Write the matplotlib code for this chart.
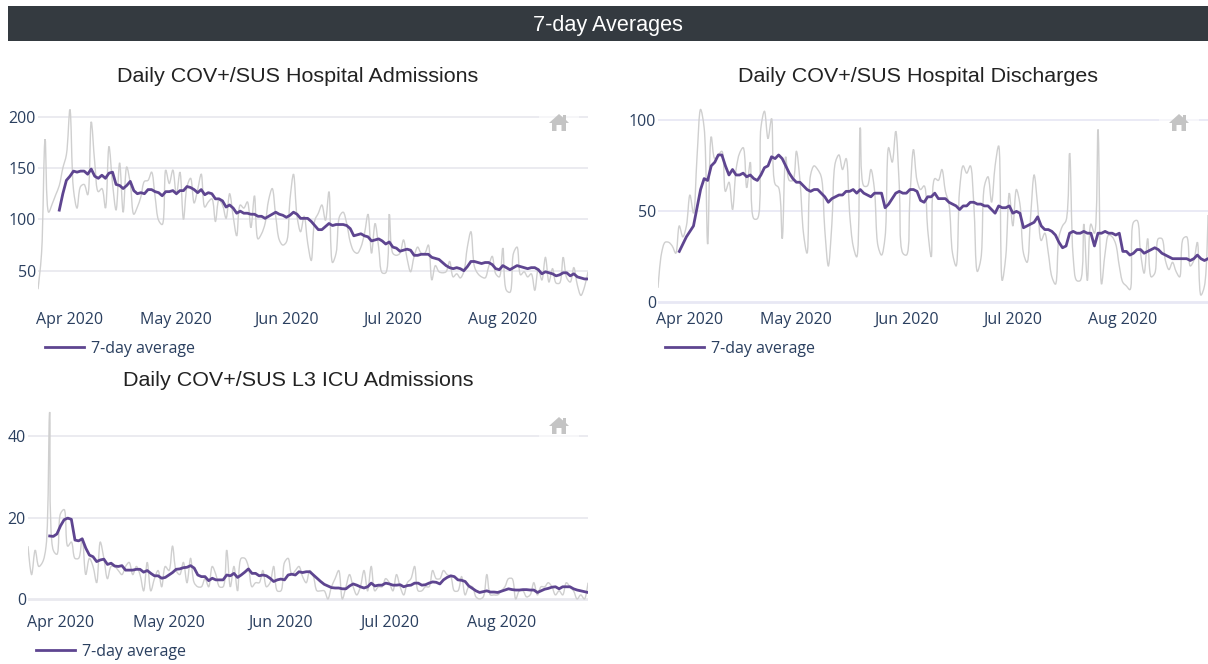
"""
7-day averages dashboard: hospital admissions, discharges and L3 ICU admissions
"""

import numpy as np
import matplotlib
matplotlib.use("Agg")
import matplotlib.pyplot as plt
import matplotlib.dates as mdates
from matplotlib.path import Path
from matplotlib.patches import PathPatch, Polygon, Rectangle

# ── Data (one value per day) ──────────────────────────────────
start_date = "2020-03-23"
end_date = "2020-08-25"
tick_dates = ["2020-04-01", "2020-05-01", "2020-06-01", "2020-07-01", "2020-08-01"]
tick_labels = ["Apr 2020", "May 2020", "Jun 2020", "Jul 2020", "Aug 2020"]

adm_daily = [
    32, 67, 178, 107, 115, 124, 133, 150, 163, 207, 129, 111, 132, 134, 124, 195,
    155, 127, 130, 111, 171, 135, 109, 155, 107, 151, 135, 105, 112, 122, 137, 138,
    146, 122, 99, 95, 148, 135, 148, 124, 146, 100, 132, 140, 116, 129, 144, 112,
    117, 120, 98, 119, 114, 101, 125, 103, 84, 114, 111, 117, 92, 123, 81, 86,
    96, 119, 130, 103, 80, 75, 78, 119, 144, 103, 88, 103, 77, 60, 99, 106,
    114, 99, 127, 58, 67, 103, 107, 96, 78, 69, 67, 73, 86, 105, 67, 96,
    73, 48, 48, 105, 67, 65, 67, 80, 62, 49, 64, 73, 67, 67, 75, 41,
    55, 49, 48, 49, 59, 44, 47, 43, 49, 73, 88, 54, 47, 44, 43, 54,
    64, 47, 44, 72, 31, 29, 67, 73, 46, 49, 44, 47, 31, 52, 41, 63,
    39, 52, 38, 38, 63, 43, 39, 53, 36, 26, 34, 49,
]
adm_avg = [
    109, 125, 138, 142, 147, 146, 147, 147, 144, 149, 142, 140, 143, 140, 145, 146,
    134, 133, 130, 133, 137, 128, 125, 126, 125, 129, 129, 127, 126, 123, 127, 127,
    128, 125, 128, 128, 132, 131, 129, 126, 129, 124, 126, 125, 120, 120, 118, 112,
    114, 111, 106, 108, 106, 106, 105, 105, 103, 103, 101, 103, 105, 107, 105, 104,
    102, 104, 107, 105, 101, 101, 101, 98, 94, 90, 90, 93, 96, 94, 95, 95,
    95, 94, 91, 84, 85, 86, 84, 83, 79, 80, 81, 79, 76, 78, 73, 72,
    69, 70, 71, 70, 65, 65, 66, 66, 66, 63, 62, 61, 58, 55, 53, 52,
    53, 52, 50, 54, 59, 59, 58, 57, 58, 58, 56, 52, 51, 55, 53, 51,
    53, 55, 54, 53, 52, 53, 53, 51, 47, 49, 48, 47, 45, 46, 48, 48,
    45, 47, 44, 43, 42, 42,
]

dis_daily = [
    8, 27, 33, 33, 31, 27, 42, 36, 42, 59, 49, 80, 106, 96, 32, 91,
    79, 81, 83, 61, 66, 51, 73, 82, 85, 63, 77, 46, 46, 96, 105, 90,
    101, 65, 63, 35, 80, 67, 67, 83, 67, 38, 27, 70, 75, 73, 69, 40,
    20, 43, 77, 81, 73, 79, 49, 31, 25, 96, 64, 64, 73, 62, 31, 26,
    36, 85, 77, 94, 64, 27, 26, 58, 84, 67, 62, 64, 40, 25, 68, 67,
    73, 61, 54, 27, 20, 62, 75, 71, 75, 54, 17, 24, 64, 69, 55, 75,
    86, 12, 25, 60, 42, 62, 54, 27, 22, 47, 70, 53, 34, 38, 27, 14,
    10, 36, 42, 45, 82, 25, 12, 12, 43, 12, 43, 38, 95, 10, 27, 37,
    36, 32, 20, 11, 9, 7, 44, 45, 27, 16, 35, 14, 16, 35, 35, 23,
    18, 22, 17, 14, 35, 36, 20, 23, 33, 4, 9, 48,
]
dis_avg = [
    28, 32, 36, 39, 42, 52, 62, 68, 67, 75, 77, 81, 81, 75, 70, 73,
    70, 70, 71, 69, 70, 68, 67, 70, 74, 75, 80, 79, 81, 79, 75, 71,
    68, 66, 66, 64, 62, 61, 62, 62, 60, 58, 55, 57, 58, 59, 59, 61,
    61, 62, 60, 62, 60, 59, 58, 60, 60, 60, 52, 54, 57, 60, 61, 60,
    60, 62, 62, 61, 56, 55, 58, 58, 60, 57, 57, 57, 55, 54, 53, 51,
    53, 53, 55, 55, 54, 54, 53, 53, 51, 49, 53, 52, 52, 53, 49, 50,
    49, 41, 42, 43, 44, 47, 42, 40, 40, 39, 37, 33, 30, 31, 38, 39,
    38, 38, 39, 38, 38, 31, 38, 38, 39, 38, 38, 37, 38, 28, 28, 26,
    27, 29, 29, 27, 28, 29, 30, 29, 27, 26, 25, 24, 24, 24, 24, 24,
    23, 24, 26, 24, 23, 24,
]

icu_daily = [
    13, 6, 12, 8, 9, 13, 46, 12, 11, 21, 22, 13, 14, 10, 10, 15,
    6, 10, 8, 4, 14, 10, 5, 8, 8, 7, 6, 8, 9, 6, 8, 6,
    2, 9, 2, 5, 7, 3, 8, 7, 13, 7, 6, 9, 4, 10, 4, 3,
    3, 5, 3, 8, 6, 3, 3, 12, 3, 8, 2, 10, 10, 8, 3, 4,
    4, 7, 3, 4, 8, 2, 2, 9, 10, 6, 7, 8, 5.5, 4, 7, 5.5,
    2, 2, 2, 0, 3, 5, 7, 0, 3, 6, 3, 1, 3, 7, 2, 8,
    2, 3, 3, 5, 4, 2, 6, 3, 1, 4, 5, 8, 2, 2, 3, 3,
    7, 5, 5, 7, 6, 5.5, 2, 2, 5.5, 1, 3, 3, 0.5, 0, 0.5, 6,
    1, 1, 1, 2, 3, 5, 5, 0, 2, 2, 0.5, 1, 4, 1, 3, 3,
    4, 3, 1, 2, 1, 4, 3, 2, 0, 1, 0, 4,
]
icu_avg = [
    15.5, 15.4, 16, 18, 19.5, 19.9, 19.6, 14.5, 14.3, 14.8, 12.5, 10.8, 10.4, 9.2, 9.6, 9.8,
    8.5, 8.8, 8.1, 8, 8.2, 7.1, 7.1, 7.1, 7.3, 7.3, 6.6, 7, 6.3, 5.7, 5.7, 5.1,
    5.3, 5.9, 6.5, 7.3, 7.4, 7.7, 7.8, 8.2, 7.6, 5.9, 5.5, 5.5, 4.5, 5.1, 4.7, 4.7,
    4.7, 5.9, 5.7, 6.3, 5.3, 5.9, 6.6, 7.4, 6.3, 6.3, 5.7, 5.9, 5.7, 5.1, 4.3, 4.7,
    4.9, 4.7, 5.9, 6.1, 5.9, 6.7, 6.5, 6.7, 6.7, 5.9, 5.1, 4.3, 3.6, 3.2, 2.8, 2.7,
    2.7, 2.5, 2.5, 3.2, 3.7, 3.4, 3, 2.7, 3, 3.9, 3.2, 3.4, 3.4, 3.9, 3.7, 3.4,
    3.4, 3.5, 3, 3.3, 3.4, 3.9, 3.9, 3.4, 3.5, 3.9, 4.2, 4.1, 3.7, 4.7, 5.3, 5.7,
    5.5, 4.7, 4.6, 4.3, 3.2, 2.6, 2, 1.6, 1.8, 2, 1.7, 1.7, 1.6, 1.9, 2.2, 2.5,
    2.3, 2.2, 2.2, 2.3, 2.3, 2.2, 2.2, 1.6, 2, 2.4, 2.6, 2.9, 3, 2.5, 3, 3,
    3, 2.5, 2.2, 2, 1.8, 1.6,
]

yticks_adm = [50, 100, 150, 200]
yticks_dis = [0, 50, 100]
yticks_icu = [0, 20, 40]

# ── Style ─────────────────────────────────────
W, H = 1208, 664
INK = "#2a3f5f"
GRAY = "#cfcfcf"
PURPLE = "#5e4590"
GRID = "#e9e9ef"

plt.rcParams["font.family"] = ["Open Sans", "DejaVu Sans"]


def px_axes(fig, left, right, top, bottom):
    return fig.add_axes([left / W, 1 - bottom / H, (right - left) / W, (bottom - top) / H])


def spline_path(x, y, sx, sy):
    # same tangents as a plotly "spline" line, worked out in pixel scale
    p = np.column_stack([np.asarray(x) * sx, np.asarray(y) * sy])
    verts = [p[0]]
    codes = [Path.MOVETO]
    out = [p[0]]
    back = [p[0]]
    for i in range(1, len(p) - 1):
        d1 = p[i - 1] - p[i]
        d2 = p[i + 1] - p[i]
        a1 = (d1 @ d1) ** 0.25
        a2 = (d2 @ d2) ** 0.25
        num = a2 * a2 * d1 - a1 * a1 * d2
        back.append(p[i] + num / (3 * a2 * (a1 + a2)))
        out.append(p[i] - num / (3 * a1 * (a1 + a2)))
    out.append(p[-1])
    back.append(p[-1])
    for i in range(1, len(p)):
        verts += [out[i - 1], back[i], p[i]]
        codes += [Path.CURVE4] * 3
    return Path(np.array(verts) / [sx, sy], codes)


def panel(fig, box, ylim, yticks, daily, avg, title, title_xy, legend_xy, xpad, grid, icon_xy):
    left, right, top, bottom = box
    ax = px_axes(fig, left, right, top, bottom)
    dates = np.arange(np.datetime64(start_date), np.datetime64(end_date) + 1)
    x = mdates.date2num(dates)
    ax.set_xlim(x[0], x[-1])
    ax.set_ylim(*ylim)

    sx = (right - left) / (x[-1] - x[0])
    sy = (bottom - top) / (ylim[1] - ylim[0])
    ax.add_patch(PathPatch(spline_path(x, daily, sx, sy), fill=False, ec=GRAY, lw=1.0, zorder=2))
    ax.plot(x[-len(avg):], avg, color=PURPLE, lw=2.0, zorder=3, solid_joinstyle="round",
            label="7-day average")

    ax.set_xticks(mdates.date2num(np.array(tick_dates, dtype="datetime64[D]")))
    ax.set_xticklabels(tick_labels)
    ax.set_yticks(yticks)
    ax.tick_params(axis="x", length=0, pad=xpad, labelsize=11.5, labelcolor=INK)
    ax.tick_params(axis="y", length=0, pad=1.5, labelsize=11.5, labelcolor=INK)
    for s in ax.spines.values():
        s.set_visible(False)
    for v in yticks:
        ax.axhline(v, color=grid, lw=2.0 if v == 0 else 1.3, zorder=1)

    fig.text(title_xy[0] / W, 1 - title_xy[1] / H, title, ha="center", va="center",
             fontsize=15.45, color="#222222", family="Liberation Sans")
    ax.legend(loc="center left", bbox_to_anchor=(legend_xy[0] / W, 1 - legend_xy[1] / H),
              bbox_transform=fig.transFigure, frameon=False, fontsize=11.5, labelcolor=INK,
              handlelength=2.45, handletextpad=0.45, borderpad=0, borderaxespad=0)

    # home button of the chart toolbar
    ix, iy = icon_xy
    fig.add_artist(Rectangle(((ix - 20) / W, 1 - (iy + 11) / H), 40 / W, 22 / H, fc="white",
                             ec="none", alpha=0.6, transform=fig.transFigure, zorder=4))
    outline = [(-10, 0), (0, -9), (4, -5.5), (4, -8), (7, -8), (7, -3), (10, 0), (7, 0), (7, 8),
               (2.5, 8), (2.5, 2), (-2.5, 2), (-2.5, 8), (-7, 8), (-7, 0)]
    fig.add_artist(Polygon([((ix + a) / W, 1 - (iy + b) / H) for a, b in outline], closed=True,
                           fc="#c4c4c4", ec="none", transform=fig.transFigure, zorder=5))
    return ax


# ── Plot ──────────────────────────────────────
fig = plt.figure(figsize=(W / 100, H / 100), dpi=100, facecolor="white")

# header bar
fig.add_artist(Rectangle((8 / W, 1 - 41 / H), 1200 / W, 35 / H, fc="#343a40", ec="none",
                         transform=fig.transFigure))
fig.text(608 / W, 1 - 25 / H, "7-day Averages", ha="center", va="center", color="white",
         fontsize=15.6, family="Liberation Sans")

panel(fig, (38, 588, 106, 304), (17.6, 210.4), yticks_adm, adm_daily, adm_avg,
      "Daily COV+/SUS Hospital Admissions", (298, 77), (45, 349), 5.5, GRID, (559, 123))
panel(fig, (658, 1208, 106, 304), (-0.9, 107.9), yticks_dis, dis_daily, dis_avg,
      "Daily COV+/SUS Hospital Discharges", (918, 77), (665, 349), 5.5, "#e8e8f4", (1179, 123))
panel(fig, (28, 588, 408, 601), (-0.5, 47.0), yticks_icu, icu_daily, icu_avg,
      "Daily COV+/SUS L3 ICU Admissions", (298, 381), (36, 651.5), 10.0, GRID, (559, 426))

plt.savefig("out.png", dpi=100)
